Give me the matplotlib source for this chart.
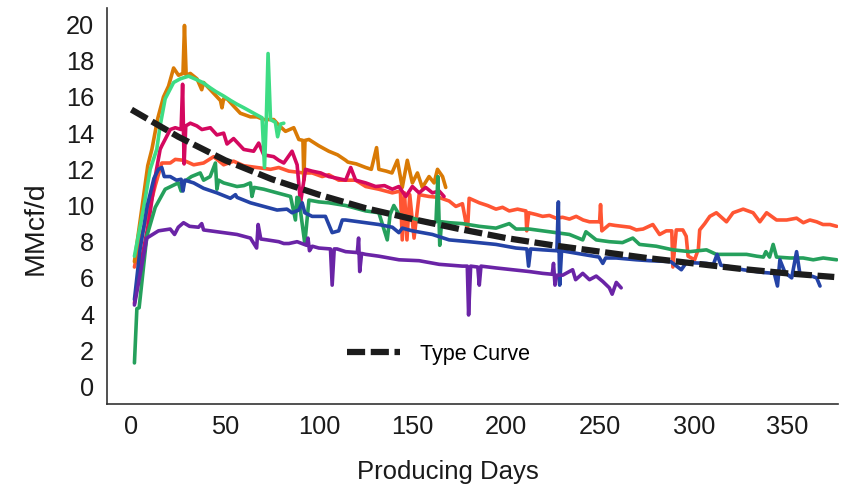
import numpy as np
import matplotlib
matplotlib.use("Agg")
import matplotlib.pyplot as plt

plt.rcParams['font.family'] = ['Liberation Sans', 'DejaVu Sans']

# ---- data (day, MMcf/d) ----
orange_pts = [(1.6,6.9),(5.5,9.8),(8.7,12.2),(10.9,13.1),(14,14.8),(17.1,16.0),(19.8,16.6),(22.5,17.6),
    (25.1,17.2),(27.5,17.3),(28.3,19.95),(29.2,17.2),(31.4,17.3),(35,17.0),(37.5,16.4),(38.5,16.8),
    (43.9,16.2),(47.5,15.8),(48.3,15.4),(49.2,15.9),(51,15.9),(54.5,15.5),(58.1,15.1),(63.5,14.9),
    (67,14.9),(70.6,14.75),(75.9,14.75),(79,14.4),(82.2,14.1),(86.6,14.3),(89.3,13.65),(91.5,13.6),
    (92,11.4),(92.6,13.6),(94.7,13.65),(100,13.3),(105.3,13.0),(110,12.8),(114.3,12.5),(115.5,12.4),
    (120,12.3),(125,12.1),(128,12.0),(130.8,13.2),(132,12.0),(136,11.9),(139,11.8),(141.9,12.5),
    (144.5,11.0),(147.2,12.5),(149.9,11.25),(152.6,11.8),(155.2,11.0),(158.8,11.6),(161.5,11.25),
    (163.3,12.0),(166,11.6),(167.7,11.0)]

lightgreen_pts = [(1.6,7.2),(6.4,9.8),(10,12.0),(13.5,13.1),(15.3,14.4),(18,15.9),(22.5,16.8),(26,17.0),
    (30.5,17.15),(34.9,16.95),(38,16.8),(42.1,16.5),(45,16.3),(49.2,16.05),(53,15.8),(56.3,15.6),
    (60,15.4),(63.5,15.2),(67,15.0),(69.7,14.85),(71,12.1),(72,14.9),(72.9,18.4),(74.2,14.75),
    (76.8,14.6),(78,13.8),(79.5,14.5),(81.3,14.55)]

crimson_pts = [(1.6,4.6),(5,6.8),(9.1,9.0),(12.7,11.6),(15.3,13.1),(16.2,13.3),(20.7,14.2),(23.4,14.3),
    (26.5,14.2),(27.3,16.7),(28.1,12.3),(29,14.4),(31.4,14.55),(34.9,14.4),(37.6,14.2),(42.1,14.3),
    (45.6,13.9),(49.2,14.0),(51,13.4),(54.5,13.7),(59.9,13.1),(65.2,13.0),(67.9,13.45),(70.6,12.8),
    (75.9,12.7),(78.6,12.5),(81.3,12.35),(85.7,13.0),(88.4,12.25),(90.2,10.15),(92.9,12.0),(96.4,11.9),
    (101,11.8),(105.3,11.6),(110,11.5),(114.3,11.4),(117,12.1),(119.6,11.4),(125,11.25),(130.3,11.05),
    (135,11.1),(139.2,10.9),(142.7,11.05),(146.4,10.5),(149.9,11.05),(153.5,10.7),(157,11.0),
    (160.6,10.7),(164.2,10.8),(166.8,10.5)]

tomato_pts = [(1.6,6.6),(5,8.2),(9,9.6),(12.7,11.1),(16.2,12.35),(20.7,12.35),(23.4,12.55),(27.8,12.5),
    (33.2,12.25),(38.5,12.35),(43.9,12.7),(49.2,12.25),(54.5,12.45),(59.9,12.2),(67,12.1),(74.2,12.0),
    (78.6,12.1),(84,11.9),(92,11.8),(96.4,11.8),(101.8,11.6),(105.3,11.7),(110.6,11.4),(119.6,11.4),
    (125,11.05),(132,10.9),(139.2,10.7),(143.5,10.8),(144.5,8.1),(145.7,10.7),(147,8.1),(148.5,10.6),
    (150.8,8.2),(153.5,10.6),(158.8,10.5),(164,10.45),(169.5,10.25),(173.1,9.95),(176.6,10.1),
    (179.3,8.6),(180.2,10.4),(185.6,10.15),(190,10.0),(194.5,9.8),(198,9.9),(201.6,9.7),(206,9.8),
    (210.5,9.7),(210.9,8.6),(212,9.6),(216,9.5),(219.4,9.4),(223,9.45),(226.6,9.3),(230,9.35),
    (233.7,9.25),(237.3,9.4),(241,9.2),(244.4,9.1),(249.8,9.1),(250.3,10.05),(251,8.6),
    (255,8.95),(258,8.9),(262,8.85),(266,8.8),(269.4,8.65),(273,8.7),(278.2,8.95),(281.8,8.4),(285.4,8.6),
    (288.3,8.6),(288.9,6.6),(290.7,8.65),(294.2,8.65),(296,8.3),(297,7.2),(300.5,7.0),(302.5,7.6),
    (303.2,8.65),(305.9,9.0),(308.6,9.4),(312.1,9.6),(317.5,9.1),(321,9.6),(326.4,9.8),(331.7,9.6),
    (335.3,9.1),(338.9,9.6),(344.2,9.2),(349.6,9.2),(354.9,9.3),(358.5,9.05),(362,9.2),(365.6,9.1),
    (369,8.95),(372.7,8.95),(376.3,8.85)]

green_pts = [(1.6,1.3),(2.9,4.3),(4.1,4.35),(8.2,8.3),(12.7,9.9),(18,10.9),(25,11.25),(26.5,10.8),
    (28,11.3),(32,11.6),(36.7,11.8),(38.5,11.4),(42,11.6),(44.8,12.35),(45.6,10.9),(46.5,11.4),
    (49.2,11.25),(56.3,11.05),(60,11.1),(63.5,11.25),(64.3,10.5),(65.5,11.0),(70.6,10.9),(77.7,10.7),
    (84.9,10.5),(87.5,9.2),(88.3,10.45),(89.3,10.4),(92.5,7.9),(94.7,10.3),(100,10.2),(105.3,10.15),
    (114.3,10.0),(125,9.7),(132,9.6),(136.5,8.1),(138,9.5),(140,10.0),(142.8,9.5),(148,9.35),
    (153.5,9.2),(158.8,9.1),(162.5,9.1),(163.5,11.6),(164.5,7.8),(165.5,9.1),(169.5,9.05),(176.6,9.0),
    (185.6,8.85),(194.5,8.75),(201.6,9.0),(205.2,8.7),(212.3,8.7),(219.4,8.6),(226.6,8.5),(233.7,8.4),
    (240.8,8.1),(242.5,8.55),(248,8.1),(255,8.0),(262,7.95),(267.5,8.2),(271.1,7.85),(280,7.75),
    (288.9,7.55),(297.9,7.45),(306.8,7.55),(312.1,7.3),(319.3,7.3),(328.2,7.3),(333.6,7.2),(337.2,7.15),
    (338.5,7.45),(340.5,7.15),(342.4,7.85),(344.2,7.15),(351.3,7.1),(358.4,7.1),(363.8,7.0),
    (369.1,7.1),(376.3,7.0)]

blue_pts = [(1.6,4.8),(4.5,7.5),(8.5,10.0),(12,11.5),(14.4,12.0),(16.2,12.1),(17.5,11.6),(20.7,11.6),
    (24,11.4),(26.5,11.45),(27.5,10.8),(28.5,11.4),(33.2,11.25),(38.5,10.95),(45.6,10.7),(52.8,10.4),
    (55.5,10.6),(56.3,10.45),(63.5,10.15),(70.6,9.95),(77.7,9.75),(83,9.8),(85.7,9.6),(89.3,9.75),
    (91.1,10.15),(92.5,9.6),(96.4,9.4),(103.5,9.4),(107.1,8.5),(110.6,8.6),(112.5,9.2),(114.3,9.2),
    (121.4,9.1),(132,8.95),(139.2,8.8),(142.7,8.5),(144.5,8.75),(149.9,8.6),(160.6,8.4),(169.5,8.1),
    (180.2,8.0),(194.5,7.85),(205.2,7.65),(211,7.6),(211.9,6.65),(213,7.6),(219.4,7.55),(227,7.5),
    (227.8,10.2),(228.5,5.6),(229.5,7.5),(240.8,7.3),(249.5,7.15),(251.5,6.8),(253,7.1),(258.7,7.1),
    (269.4,7.0),(276.5,6.95),(287.7,6.9),(293.4,6.45),(296.1,6.85),(306.8,6.8),(310.5,6.75),
    (312.5,7.3),(314.5,6.7),(320,6.6),(326.4,6.45),(337.1,6.3),(343,6.25),(344.7,5.55),(346,7.0),
    (348.7,6.3),(352.3,6.0),(354.9,7.45),(356.7,6.2),(360.2,6.2),(365.6,6.0),(367.4,5.55)]

purple_pts = [(1.6,4.5),(8.2,8.2),(14.4,8.6),(20.7,8.7),(23,8.4),(25,8.8),(27.8,9.05),(31,8.85),
    (35.8,8.8),(37.5,9.0),(38.5,8.65),(42.1,8.6),(49.2,8.5),(56.3,8.4),(63.5,8.2),(66.8,7.65),
    (67.6,8.95),(69,8.15),(72.4,8.1),(78.6,8.0),(81.3,7.9),(84,7.9),(88.4,8.0),(93.5,7.8),(94.2,8.2),
    (95,7.5),(96.5,7.75),(100,7.65),(106.2,7.6),(107.1,5.6),(108.2,7.6),(109.7,7.6),(114.3,7.45),
    (120.5,7.4),(121.2,8.2),(121.8,6.35),(122.8,7.35),(125,7.3),(132,7.2),(142.8,7.0),(153.5,6.95),
    (164.2,6.75),(176.6,6.65),(179.2,6.65),(179.9,3.95),(181,6.65),(184.8,6.6),(185.6,5.6),
    (186.5,6.65),(194.5,6.55),(203.4,6.45),(212.3,6.35),(219.4,6.25),(224.5,6.2),(225.2,6.8),
    (226,5.6),(227,6.15),(230.1,6.15),(235.4,6.45),(237,5.9),(240.8,6.25),(244.4,5.9),(248,6.1),
    (251.5,5.8),(255,5.45),(256.5,5.1),(258.7,5.75),(261.3,5.45)]

type_curve_days = [0, 25, 50, 75, 100, 125, 150, 175, 200, 225, 250, 275, 300, 325, 350, 375]
type_curve_vals = [15.3, 13.8, 12.5, 11.45, 10.6, 9.85, 9.25, 8.7, 8.2, 7.8, 7.45, 7.1, 6.8, 6.5, 6.25, 6.05]

x_ticks = [0, 50, 100, 150, 200, 250, 300, 350]
y_ticks = [0, 2, 4, 6, 8, 10, 12, 14, 16, 18, 20]

series = [
    (tomato_pts, '#FF5533'),
    (orange_pts, '#D97A05'),
    (crimson_pts, '#D4085F'),
    (lightgreen_pts, '#3DDC84'),
    (green_pts, '#25A05C'),
    (blue_pts, '#2443A6'),
    (purple_pts, '#6A24A6'),
]

fig = plt.figure(figsize=(8.42, 4.88), dpi=100)
W, H = 842, 488
ax = fig.add_axes([106.7 / W, 1 - 404 / H, (838 - 106.7) / W, (404 - 8.3) / H])

for pts, col in series:
    arr = np.array(pts)
    ax.plot(arr[:, 0], arr[:, 1], color=col, lw=2.6, solid_joinstyle='round', solid_capstyle='round')

ax.plot(type_curve_days, type_curve_vals, color='#1c1c1c', lw=4.5, dashes=(2.9, 0.9),
        label='Type Curve', zorder=5)

ax.set_xlim(-13.2, 377)
ax.set_ylim(-0.97, 20.9)
ax.set_xticks(x_ticks)
ax.set_yticks(y_ticks)
ax.tick_params(length=0, labelsize=18.3, colors='#1a1a1a')
ax.tick_params(axis='y', pad=9)
ax.tick_params(axis='x', pad=8)

for s in ['top', 'right']:
    ax.spines[s].set_visible(False)
for s in ['left', 'bottom']:
    ax.spines[s].set_color('#333333')
    ax.spines[s].set_linewidth(1.2)

ax.set_xlabel('Producing Days', fontsize=18.5, color='#1a1a1a')
ax.xaxis.set_label_coords((448.3 - 106.7) / 731.3, (404 - 460) / 395.7)
ax.set_ylabel('MMcf/d', fontsize=20.5, color='#1a1a1a')
ax.yaxis.set_label_coords((48.4 - 106.7) / 731.3, (404 - 228) / 395.7)

leg = ax.legend(loc='center left', bbox_to_anchor=(346.7 / W, 1 - 354.3 / H),
                bbox_transform=fig.transFigure, frameon=False, fontsize=15.5,
                handlelength=2.47, handletextpad=0.95, borderpad=0, borderaxespad=0)

fig.savefig('out.png', dpi=100)
